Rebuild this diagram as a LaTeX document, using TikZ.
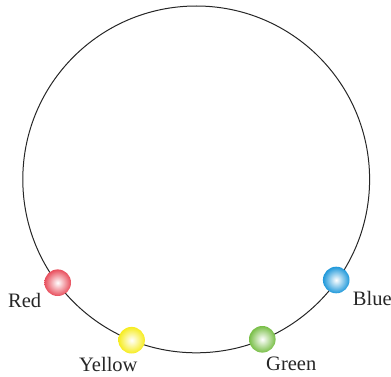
\documentclass[tikz,border=0pt]{standalone}
\usepackage{fontspec}
\setmainfont{Liberation Serif}
\definecolor{cRed}{RGB}{232,78,92}
\definecolor{cYellow}{RGB}{246,236,30}
\definecolor{cGreen}{RGB}{120,190,70}
\definecolor{cBlue}{RGB}{30,152,218}
\tikzset{
  ballnode/.style={circle, minimum size=26.6pt, inner sep=0pt, shading=radial, inner color=white, outer color=#1},
  lbl/.style={anchor=base west, inner sep=0pt, font=\fontsize{20.5}{24}\selectfont, text=black!85}
}
\begin{document}
\begin{tikzpicture}[x=1pt,y=-1pt]
\useasboundingbox (0,0) rectangle (391,377);
\node[circle, draw=black!85, line width=1pt, minimum size=346.8pt, inner sep=0pt] (ring) at (196.2,179.4) {};
\node[ballnode=cRed] (red) at (57.7,282.7) {};
\node[ballnode=cYellow] (yellow) at (131.6,340.2) {};
\node[ballnode=cGreen] (green) at (262.3,339.3) {};
\node[ballnode=cBlue] (blue) at (336.2,280) {};
\node[lbl] (tred) at (8,307.5) {Red};
\node[lbl] (tyellow) at (79,371.5) {Yellow};
\node[lbl] (tgreen) at (266,370.7) {Green};
\node[lbl] (tblue) at (352.7,305) {Blue};
\end{tikzpicture}
\end{document}
